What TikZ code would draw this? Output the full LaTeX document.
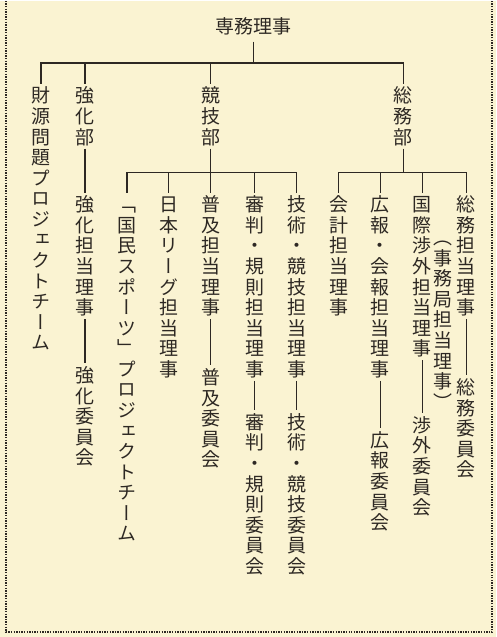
\documentclass[tikz,border=0pt]{standalone}
\usepackage{fontspec}
\newfontfamily\jp[RawFeature=+vert]{Noto Sans CJK JP}
\definecolor{paper}{RGB}{250,243,210}
\definecolor{ink}{RGB}{45,40,35}

% one character per cell, stacked top to bottom
\newdimen\tategap \tategap=0.8pt
\newcommand\tate[1]{\vbox{\offinterlineskip\tatei#1\relax\unskip}}
\def\tatei#1{\ifx\relax#1\else\hbox to 1em{\hss\vrule width0pt height.88em depth.12em\relax#1\hss}\vskip\tategap\expandafter\tatei\fi}

\begin{document}
\begin{tikzpicture}[x=0.5pt,y=-0.5pt,
    every node/.style={text=ink,font=\jp\fontsize{9.5}{10}\selectfont},
    lbl/.style={inner sep=1pt,anchor=north},
    link/.style={draw=ink,line width=0.7pt},
    frame/.style={draw=ink,line width=0.9pt,dash pattern=on 0.7pt off 0.6pt}]

            \fill[paper] (0,0) rectangle (497,637);
            \draw[frame] (6,0) -- (6,632) -- (493,632) -- (493,0);

            \node (senmu) at (254,25) {専務理事};

            \node [lbl] (zaigen) at (41,83) {\tate{財源問題プロジェクトチーム}};
            \node [lbl] (kyoka) at (85,83) {\tate{強化部}};
            \node [lbl] (kyogi) at (211,83) {\tate{競技部}};
            \node [lbl] (somu) at (404,83) {\tate{総務部}};

            \node [lbl] (kyokatanto) at (85,192) {\tate{強化担当理事}};
            \node [lbl] (kyokaiin) at (85,363) {\tate{強化委員会}};

            \node [lbl] (kokumin) at (127,192) {\tate{「国民スポーツ」プロジェクトチーム}};
            \node [lbl] (nihon) at (169,192) {\tate{日本リーグ担当理事}};
            \node [lbl] (fukyu) at (211,192) {\tate{普及担当理事}};
            \node [lbl] (fukyuiin) at (211,365) {\tate{普及委員会}};
            \node [lbl] (shinpan) at (255,192) {\tate{審判・規則担当理事}};
            \node [lbl] (shinpaniin) at (255,410) {\tate{審判・規則委員会}};
            \node [lbl] (gijutsu) at (297,192) {\tate{技術・競技担当理事}};
            \node [lbl] (gijutsuiin) at (297,410) {\tate{技術・競技委員会}};

            \node [lbl] (kaikei) at (339,192) {\tate{会計担当理事}};
            \node [lbl] (koho) at (381,192) {\tate{広報・会報担当理事}};
            \node [lbl] (kohoiin) at (381,428) {\tate{広報委員会}};
            \node [lbl] (kokusai) at (423,192) {\tate{国際渉外担当理事}};
            \node [lbl] (shogaiiin) at (423,413) {\tate{渉外委員会}};
            \node [lbl] (somutanto) at (467,192) {\tate{総務担当理事}};
            \node [lbl] (jimukyoku) at (444,225) {\tate{（事務局担当理事）}};
            \node [lbl] (somuiin) at (467,375) {\tate{総務委員会}};

            \coordinate (top) at (254,62);
            \coordinate (kbar) at (211,172);
            \coordinate (sbar) at (404,172);

            \draw[link] (senmu) -- (top);
            \draw[link] (zaigen) |- (top) -| (somu);
            \draw[link] (kyoka) -- (kyoka |- top);
            \draw[link] (kyogi) -- (kyogi |- top);

            \draw[link] (kyogi) -- (kbar);
            \draw[link] (kokumin) |- (kbar) -| (gijutsu);
            \draw[link] (nihon) -- (nihon |- kbar);
            \draw[link] (fukyu) -- (fukyu |- kbar);
            \draw[link] (shinpan) -- (shinpan |- kbar);

            \draw[link] (somu) -- (sbar);
            \draw[link] (kaikei) |- (sbar) -| (somutanto);
            \draw[link] (koho) -- (koho |- sbar);
            \draw[link] (kokusai) -- (kokusai |- sbar);

            \draw[link] (kyoka) -- (kyokatanto) -- (kyokaiin);
            \draw[link] (fukyu) -- (fukyuiin);
            \draw[link] (shinpan) -- (shinpaniin);
            \draw[link] (gijutsu) -- (gijutsuiin);
            \draw[link] (koho) -- (kohoiin);
            \draw[link] (kokusai) -- (shogaiiin);
            \draw[link] (somutanto) -- (somuiin);

        \end{tikzpicture}
\end{document}
